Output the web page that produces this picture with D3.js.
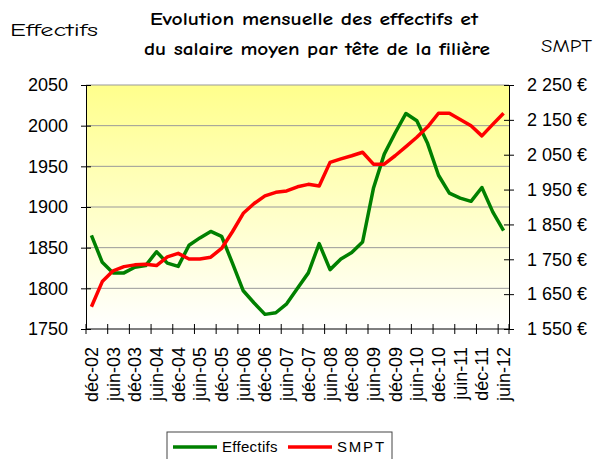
<!DOCTYPE html>
<html>
<head>
<meta charset="utf-8">
<script src="https://cdn.jsdelivr.net/npm/d3@7/dist/d3.min.js"></script>
<style>
  body { margin: 0; background: #fff; }
  svg text { font-family: "Liberation Sans", Arial, sans-serif; }
  .comic { font-family: "Comic Sans MS", "Comic Neue", "DejaVu Sans", sans-serif; }
</style>
</head>
<body>
<div id="svg-area"></div>
<script>
// quarterly categories, labels shown every 2nd one
var quarters = ["déc-02","mars-03","juin-03","sept-03","déc-03","mars-04","juin-04","sept-04",
  "déc-04","mars-05","juin-05","sept-05","déc-05","mars-06","juin-06","sept-06",
  "déc-06","mars-07","juin-07","sept-07","déc-07","mars-08","juin-08","sept-08",
  "déc-08","mars-09","juin-09","sept-09","déc-09","mars-10","juin-10","sept-10",
  "déc-10","mars-11","juin-11","sept-11","déc-11","mars-12","juin-12"];

var effectifs = [1865,1832,1819,1819,1826,1828,1845,1831,1827,1853,1862,1870,1864,1831,1797,1782,
  1768,1770,1781,1800,1819,1855,1823,1836,1844,1857,1923,1965,1991,2015,2006,1978,
  1939,1917,1911,1907,1924,1894,1871];

var smpt = [1614,1686,1717,1729,1734,1736,1732,1757,1767,1751,1751,1756,1781,1829,1882,1910,
  1932,1942,1946,1958,1965,1960,2028,2038,2047,2057,2023,2023,2047,2073,2100,2130,
  2169,2169,2151,2133,2104,2137,2169];

var leftTicks = [1750,1800,1850,1900,1950,2000,2050];
var rightTicks = [1550,1650,1750,1850,1950,2050,2150,2250];

var svgWidth = 596, svgHeight = 459;
var margin = {top: 85, right: 87, bottom: 130, left: 86};
var chartWidth = svgWidth - margin.left - margin.right;
var chartHeight = svgHeight - margin.top - margin.bottom;

var svg = d3.select("#svg-area").append("svg")
  .attr("width", svgWidth)
  .attr("height", svgHeight);

var defs = svg.append("defs");
var grad = defs.append("linearGradient").attr("id", "bg")
  .attr("x1", 0).attr("y1", 0).attr("x2", 0).attr("y2", 1);
grad.append("stop").attr("offset", "0%").attr("stop-color", "#ffff8c");
grad.append("stop").attr("offset", "100%").attr("stop-color", "#ffffff");

var chartGroup = svg.append("g")
  .attr("transform", `translate(${margin.left}, ${margin.top})`);

var x = d3.scaleBand().domain(quarters).range([0, chartWidth]);
var yL = d3.scaleLinear().domain([1750, 2050]).range([chartHeight, 0]);
var yR = d3.scaleLinear().domain([1550, 2250]).range([chartHeight, 0]);

chartGroup.append("rect")
  .attr("width", chartWidth).attr("height", chartHeight)
  .attr("fill", "url(#bg)");

// gridlines
chartGroup.selectAll(".grid").data(leftTicks.slice(1)).enter().append("line")
  .attr("x1", 0).attr("x2", chartWidth)
  .attr("y1", d => yL(d)).attr("y2", d => yL(d))
  .attr("stroke", "#999").attr("stroke-width", 1);

// left axis
var yAxisL = d3.axisLeft(yL).tickValues(leftTicks).tickSize(5).tickPadding(13)
  .tickFormat(d3.format("d"));
var gL = chartGroup.append("g").call(yAxisL);
gL.selectAll(".tick line").attr("x2", -5).attr("x1", 5);
gL.selectAll("text").attr("font-size", 18).attr("fill", "#000")
  .attr("font-family", "Liberation Sans, Arial, sans-serif");

// right axis
var fmtE = function(d) { return d3.format(",")(d).replace(",", " ") + " €"; };
var yAxisR = d3.axisRight(yR).tickValues(rightTicks).tickSize(5).tickPadding(13)
  .tickFormat(fmtE);
var gR = chartGroup.append("g").attr("transform", `translate(${chartWidth},0)`).call(yAxisR);
gR.selectAll(".tick line").attr("x1", -5).attr("x2", 5);
gR.selectAll("text").attr("font-size", 18).attr("fill", "#000")
  .attr("font-family", "Liberation Sans, Arial, sans-serif");

// bottom axis: ticks every 2 categories
var tickPos = quarters.filter((d, i) => i % 2 === 0).map(d => x(d)).concat([chartWidth]);
var gB = chartGroup.append("g").attr("transform", `translate(0,${chartHeight})`);
gB.append("line").attr("x1", 0).attr("x2", chartWidth).attr("stroke", "#000");
gB.selectAll(".xt").data(tickPos).enter().append("line")
  .attr("x1", d => d).attr("x2", d => d).attr("y1", -5).attr("y2", 5)
  .attr("stroke", "#000");
gB.selectAll(".xl").data(quarters.filter((d, i) => i % 2 === 0)).enter().append("text")
  .attr("transform", d => `translate(${x(d) + x.bandwidth() / 2 + 6.5},18) rotate(-90)`)
  .attr("text-anchor", "end")
  .attr("font-size", 18)
  .text(d => d);

gL.select(".domain").attr("stroke", "#000");
gR.select(".domain").attr("stroke", "#000");

// lines
var lineL = d3.line().x((d, i) => x(quarters[i]) + x.bandwidth() / 2).y(d => yL(d));
var lineR = d3.line().x((d, i) => x(quarters[i]) + x.bandwidth() / 2).y(d => yR(d));

chartGroup.append("path").attr("d", lineL(effectifs))
  .attr("fill", "none").attr("stroke", "#008000").attr("stroke-width", 3.5)
  .attr("stroke-linejoin", "round");
chartGroup.append("path").attr("d", lineR(smpt))
  .attr("fill", "none").attr("stroke", "#ff0000").attr("stroke-width", 3.5)
  .attr("stroke-linejoin", "round");

// titles
svg.append("text").attr("class", "comic").attr("x", 150).attr("y", 25)
  .attr("font-size", 18).attr("font-weight", "bold")
  .attr("textLength", 328).attr("lengthAdjust", "spacingAndGlyphs")
  .text("Evolution mensuelle des effectifs et");
svg.append("text").attr("class", "comic").attr("x", 144).attr("y", 55)
  .attr("font-size", 18).attr("font-weight", "bold")
  .attr("textLength", 346).attr("lengthAdjust", "spacingAndGlyphs")
  .text("du salaire moyen par tête de la filière");
svg.append("text").attr("class", "comic").attr("x", 10).attr("y", 36)
  .attr("font-size", 19).attr("textLength", 88).attr("lengthAdjust", "spacingAndGlyphs")
  .text("Effectifs");
svg.append("text").attr("class", "comic").attr("x", 541).attr("y", 52)
  .attr("font-size", 19).attr("textLength", 51).attr("lengthAdjust", "spacingAndGlyphs")
  .text("SMPT");

// legend
var lg = svg.append("g").attr("transform", "translate(167,432)");
lg.append("rect").attr("width", 225).attr("height", 32)
  .attr("fill", "#fff").attr("stroke", "#444");
var items = [{name: "Effectifs", color: "#008000", x: 6}, {name: "SMPT", color: "#ff0000", x: 121}];
items.forEach(function(it) {
  lg.append("line").attr("x1", it.x).attr("x2", it.x + 44).attr("y1", 15).attr("y2", 15)
    .attr("stroke", it.color).attr("stroke-width", 3.5);
  lg.append("text").attr("x", it.x + 49).attr("y", 20).attr("font-size", 15)
    .attr("letter-spacing", it.name === "SMPT" ? 1.8 : 0.3).text(it.name);
});
</script>
</body>
</html>
